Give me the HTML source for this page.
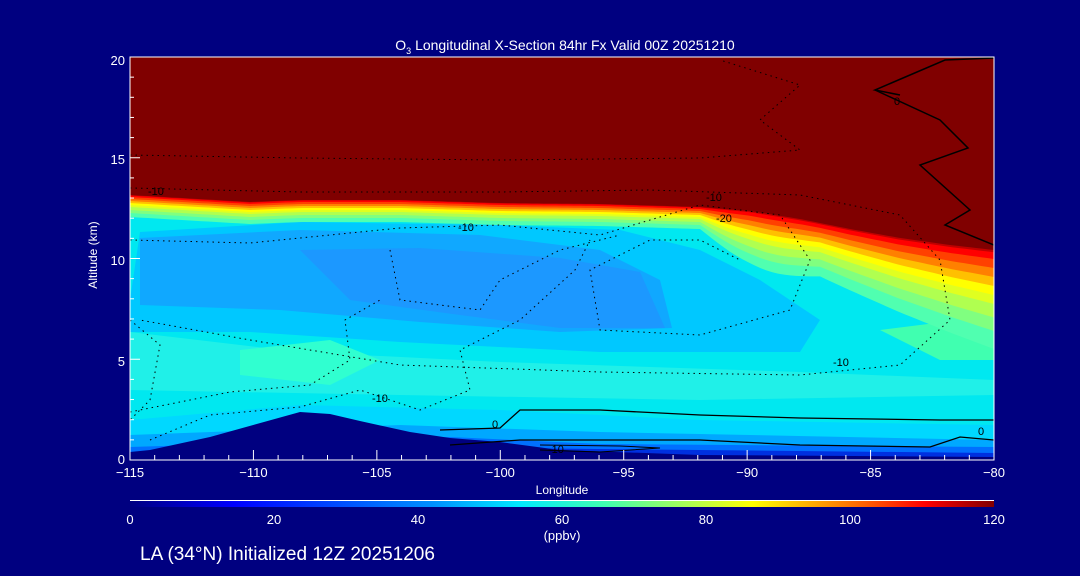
<!DOCTYPE html>
<html><head><meta charset="utf-8"><style>
html,body{margin:0;padding:0;background:#000080;}
svg{display:block}
text{font-family:"Liberation Sans",sans-serif;fill:#fff}
text.k{fill:#000}
</style></head><body>
<svg id="s" width="1080" height="576" viewBox="0 0 1080 576" xmlns="http://www.w3.org/2000/svg">
<defs>
<linearGradient id="cb" x1="0" x2="1" y1="0" y2="0">
<stop offset="0" stop-color="#000080"/><stop offset="0.12" stop-color="#0000ff"/>
<stop offset="0.35" stop-color="#0090ff"/><stop offset="0.45" stop-color="#00e8ff"/>
<stop offset="0.55" stop-color="#40ffb0"/><stop offset="0.65" stop-color="#b0ff50"/>
<stop offset="0.72" stop-color="#ffff00"/><stop offset="0.85" stop-color="#ff6000"/>
<stop offset="0.92" stop-color="#ff0000"/><stop offset="1" stop-color="#800000"/>
</linearGradient>
<clipPath id="pc"><rect x="130" y="57" width="864" height="403"/></clipPath>
</defs>
<g clip-path="url(#pc)" id="plot">
<rect x="130" y="57" width="864" height="403" fill="#00e8f0"/>
</g>
<rect x="130" y="57" width="864" height="403" fill="none" stroke="#fff" stroke-width="1"/>
<text x="565" y="50" font-size="14" text-anchor="middle">O<tspan font-size="9" dy="4">3</tspan><tspan dy="-4"> Longitudinal X-Section 84hr  Fx Valid 00Z 20251210</tspan></text>
<text x="97" y="255" font-size="12" text-anchor="middle" transform="rotate(-90 97 255)">Altitude (km)</text>
<g font-size="13" text-anchor="end">
<text x="125" y="65">20</text><text x="125" y="164">15</text><text x="125" y="265">10</text>
<text x="125" y="366">5</text><text x="125" y="464">0</text></g>
<g font-size="13" text-anchor="middle" id="xl"></g>
<text x="562" y="494" font-size="12" text-anchor="middle">Longitude</text>
<line x1="130" y1="500.5" x2="994" y2="500.5" stroke="#fff"/>
<rect x="130" y="501" width="864" height="6" fill="url(#cb)"/>
<g font-size="13" text-anchor="middle">
<text x="130" y="524">0</text><text x="274" y="524">20</text><text x="418" y="524">40</text>
<text x="562" y="524">60</text><text x="706" y="524">80</text><text x="850" y="524">100</text><text x="994" y="524">120</text></g>
<text x="562" y="540" font-size="13" text-anchor="middle">(ppbv)</text>
<text x="140" y="560" font-size="19">LA (34°N) Initialized 12Z 20251206</text>
</svg>
<script>
const NS="http://www.w3.org/2000/svg",P=document.getElementById('plot'),S=document.getElementById('s');
function el(t,a,par){const e=document.createElementNS(NS,t);for(const k in a)e.setAttribute(k,a[k]);(par||P).appendChild(e);return e;}
function poly(pts,fill){el('polygon',{points:pts.map(p=>p.join(',')).join(' '),fill:fill});}
poly([[130,300],[140,232],[300,222],[500,225],[620,230],[700,250],[760,280],[820,320],[800,352],[600,352],[400,342],[250,332],[130,332]],"#00c8ff");
poly([[140,238],[300,230],[480,235],[600,250],[660,280],[672,328],[560,332],[420,322],[280,310],[140,305]],"#10a8ff");
poly([[300,250],[420,248],[560,258],[640,272],[665,328],[560,328],[460,315],[350,300]],"#1c98ff");
poly([[130,332],[300,352],[500,362],[800,372],[994,380],[994,395],[700,400],[400,395],[130,390]],"#20f0e8");
poly([[240,350],[330,340],[380,360],[330,385],[240,375]],"#30ffd0");
poly([[880,330],[960,320],[994,330],[994,360],[940,360]],"#40ffb0");
poly([[130,420],[300,405],[500,410],[700,420],[994,425],[994,460],[130,460]],"#00d8ff");
poly([[130,435],[400,425],[600,432],[994,440],[994,460],[130,460]],"#00a8ff");
poly([[130,447],[450,437],[600,444],[994,447],[994,460],[130,460]],"#0070ff");
poly([[130,454],[500,448],[994,453],[994,460],[130,460]],"#0030e0");
const tp=[[130,195],[250,202],[300,200],[400,200],[500,203],[600,204],[700,207],[750,211],[800,219],[850,229],[900,238],[950,245],[994,250]];
function ty(x){for(let i=0;i<tp.length-1;i++){if(x<=tp[i+1][0]){const t=(x-tp[i][0])/(tp[i+1][0]-tp[i][0]);return tp[i][1]+t*(tp[i+1][1]-tp[i][1]);}}return 250;}
function sc(x){let s=1;if(x>700)s+=3.5*(x-700)/294;if(x>700&&x<820)s+=0.8*Math.sin(Math.PI*(x-700)/120);return s;}
const cols=["#50ffb0","#80ff80","#b0ff50","#e0ff20","#ffff00","#ffc000","#ff8000","#ff4000","#ff0000","#c00000"];
const offs=[22,18,15,12,10,8,6,4,2,0.5];
for(let b=0;b<cols.length;b++){const pts=[[130,57],[994,57]];for(let x=994;x>=130;x-=6){pts.push([x,ty(x)+offs[b]*sc(x)]);}poly(pts,cols[b]);}
{const pts=[[130,57],[994,57]];for(let x=994;x>=130;x-=6)pts.push([x,ty(x)]);poly(pts,"#800000");}
poly([[130,452],[150,450],[210,437],[300,412],[330,414],[360,421],[410,432],[450,438],[500,442],[560,450],[700,455],[994,457],[994,461],[130,461]],"#000080");
function line(pts,dash,w){el('polyline',{points:pts.map(p=>p.join(',')).join(' '),fill:'none',stroke:'#000','stroke-width':w||1,'stroke-dasharray':dash||''});}
const d="1.5 4";
line([[130,155],[300,158],[500,160],[700,158],[800,150],[760,120],[800,85],[720,60]],d);
line([[130,188],[300,192],[500,192],[650,190],[800,195],[900,215],[940,260],[950,320],[900,365],[800,375],[600,372],[400,365],[250,340],[140,320]],d);
line([[130,240],[250,243],[400,228],[500,225],[600,235],[700,205],[780,215],[810,260],[790,310],[700,335],[600,330],[590,270],[650,240],[700,240],[740,260]],d);
line([[390,250],[400,300],[480,310],[500,280],[560,250],[620,235]],d);
line([[130,320],[160,345],[150,400],[130,420]],d);
line([[150,440],[210,415],[300,407],[360,390],[420,410],[470,390],[460,350],[520,320],[575,270],[590,240]],d);
line([[130,412],[230,392],[310,385],[350,360],[345,320],[380,300]],d);
line([[440,430],[500,428],[520,410],[600,410],[700,415],[800,418],[940,420],[994,420]],"",1.3);
line([[900,95],[875,90],[910,75],[945,60],[994,58]],"",1.5);
line([[875,90],[940,120],[968,148],[920,165],[970,210],[945,225],[994,245]],"",1.5);
line([[450,445],[520,440],[700,440],[800,445],[930,447],[960,437],[994,440]],"",1.2);
line([[540,445],[620,446],[660,448],[600,452],[540,450]],"",1);
function lab(x,y,t){el('text',{x:x,y:y,'font-size':11,class:'k'}).textContent=t;}
lab(148,195,"-10");lab(458,231,"-10");lab(706,201,"-10");lab(716,222,"-20");lab(833,366,"-10");
lab(372,402,"-10");lab(894,105,"0");lab(492,428,"0");lab(978,435,"0");lab(548,453,"-10");
const X=document.getElementById('xl');
for(let v=-115;v<=-80;v++){const x=130+(v+115)*864/35;const big=v%5==0;el('line',{x1:x,x2:x,y1:460,y2:460-(big?10:5),stroke:'#fff'},S);
if(big)el('text',{x:x,y:477},X).textContent=(v<0?'\u2212':'')+Math.abs(v);}
for(let k=0;k<=20;k++){const y=460-k*403/20;el('line',{x1:130,x2:130+(k%5==0?10:4),y1:y,y2:y,stroke:'#fff'},S);}
</script>
</body></html>
